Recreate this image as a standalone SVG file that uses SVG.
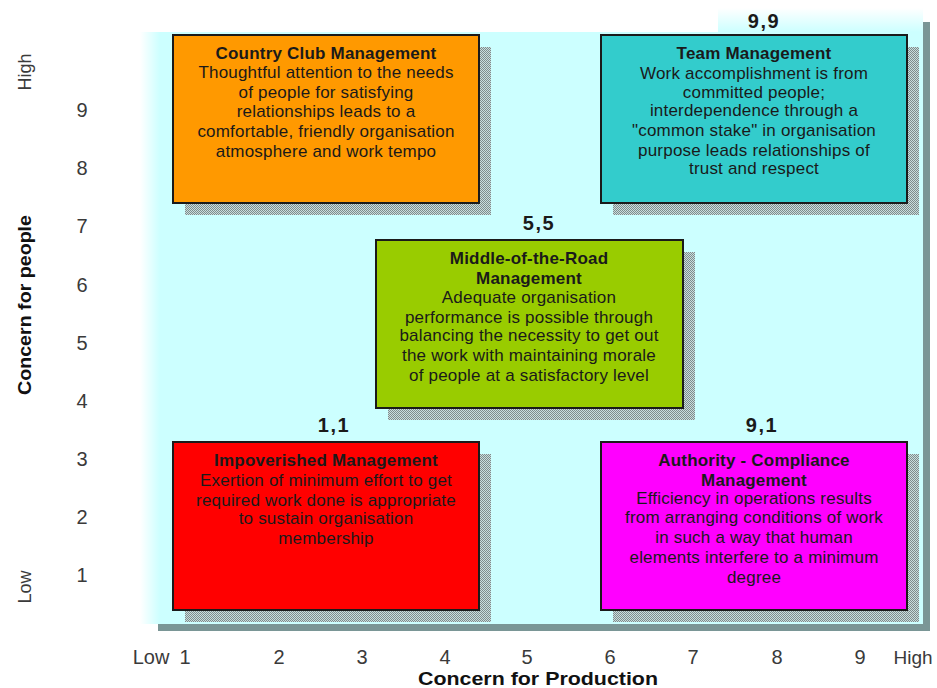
<svg xmlns="http://www.w3.org/2000/svg" width="937" height="688" viewBox="0 0 937 688">
<defs>
<pattern id="dots" width="2" height="2" patternUnits="userSpaceOnUse">
<rect width="2" height="2" fill="#c8dede"/>
<rect width="1" height="1" fill="#7f8c8c"/>
<rect x="1" y="1" width="1" height="1" fill="#7f8c8c"/>
</pattern>
<linearGradient id="leftFade" x1="0" y1="0" x2="1" y2="0">
<stop offset="0" stop-color="#ccffff" stop-opacity="0"/>
<stop offset="1" stop-color="#ccffff"/>
</linearGradient>
<linearGradient id="topFade" x1="0" y1="0" x2="0" y2="1">
<stop offset="0" stop-color="#ccffff" stop-opacity="0"/>
<stop offset="1" stop-color="#ccffff"/>
</linearGradient>
<style>
.box{stroke:#1a1a1a;stroke-width:2}
.sh{fill:url(#dots)}
.t{font-family:"Liberation Sans",Arial,sans-serif;font-size:17px;text-anchor:middle;fill:#1a1a1a;letter-spacing:0.2px}
.b{font-weight:bold;letter-spacing:0.2px}
.lbl{font-family:"Liberation Sans",Arial,sans-serif;font-size:20px;font-weight:bold;text-anchor:middle;fill:#1a1a1a;letter-spacing:1.5px}
.num{font-family:"Liberation Sans",Arial,sans-serif;font-size:20px;fill:#3a3a3a;text-anchor:middle}
.ax{font-family:"Liberation Sans",Arial,sans-serif;font-size:19px;font-weight:bold;fill:#111;text-anchor:middle}
</style>
</defs>
<rect width="937" height="688" fill="#ffffff"/>
<g id="panel">
<rect x="923" y="22" width="7" height="609" fill="#7a9696"/>
<rect x="158" y="624" width="772" height="7" fill="#7a9696"/>
<rect x="160" y="32" width="763" height="592" fill="#ccffff"/>
<rect x="140" y="32" width="20" height="592" fill="url(#leftFade)"/>
<rect x="718" y="8" width="205" height="24" fill="url(#topFade)"/>
</g>
<g id="country-club">
<rect class="sh" x="185" y="47" width="306" height="168"/>
<rect class="box" x="173" y="35" width="306" height="168" fill="#ff9900"/>
<text class="t b" x="326" y="59">Country Club Management</text>
<text class="t" x="326" y="78">Thoughtful attention to the needs</text>
<text class="t" x="326" y="98">of people for satisfying</text>
<text class="t" x="326" y="117">relationships leads to a</text>
<text class="t" x="326" y="137">comfortable, friendly organisation</text>
<text class="t" x="326" y="157">atmosphere and work tempo</text>
</g>
<g id="team">
<rect class="sh" x="613" y="47" width="306" height="168"/>
<rect class="box" x="601" y="35" width="306" height="168" fill="#33cccc"/>
<text class="lbl" x="764" y="28">9,9</text>
<text class="t b" x="754" y="59">Team Management</text>
<text class="t" x="754" y="79">Work accomplishment is from</text>
<text class="t" x="754" y="98">committed people;</text>
<text class="t" x="754" y="116">interdependence through a</text>
<text class="t" x="754" y="136">"common stake" in organisation</text>
<text class="t" x="754" y="156">purpose leads relationships of</text>
<text class="t" x="754" y="174">trust and respect</text>
</g>
<g id="middle-road">
<rect class="sh" x="388" y="252" width="307" height="168"/>
<rect class="box" x="376" y="240" width="307" height="168" fill="#99cc00"/>
<text class="lbl" x="539" y="230">5,5</text>
<text class="t b" x="529" y="264">Middle-of-the-Road</text>
<text class="t b" x="529" y="284">Management</text>
<text class="t" x="529" y="303">Adequate organisation</text>
<text class="t" x="529" y="323">performance is possible through</text>
<text class="t" x="529" y="341">balancing the necessity to get out</text>
<text class="t" x="529" y="361">the work with maintaining morale</text>
<text class="t" x="529" y="381">of people at a satisfactory level</text>
</g>
<g id="impoverished">
<rect class="sh" x="185" y="454" width="306" height="168"/>
<rect class="box" x="173" y="442" width="306" height="168" fill="#ff0000"/>
<text class="lbl" x="334" y="432">1,1</text>
<text class="t b" x="326" y="466">Impoverished Management</text>
<text class="t" x="326" y="486">Exertion of minimum effort to get</text>
<text class="t" x="326" y="506">required work done is appropriate</text>
<text class="t" x="326" y="524">to sustain organisation</text>
<text class="t" x="326" y="544">membership</text>
</g>
<g id="authority">
<rect class="sh" x="613" y="454" width="306" height="168"/>
<rect class="box" x="601" y="442" width="306" height="168" fill="#ff00ff"/>
<text class="lbl" x="762" y="432">9,1</text>
<text class="t b" x="754" y="466">Authority - Compliance</text>
<text class="t b" x="754" y="486">Management</text>
<text class="t" x="754" y="504">Efficiency in operations results</text>
<text class="t" x="754" y="523">from arranging conditions of work</text>
<text class="t" x="754" y="543">in such a way that human</text>
<text class="t" x="754" y="563">elements interfere to a minimum</text>
<text class="t" x="754" y="583">degree</text>
</g>
<g id="y-axis">
<text class="num" transform="translate(31,72) rotate(-90)" style="font-size:18px">High</text>
<text class="num" transform="translate(31,587) rotate(-90)" style="font-size:18px">Low</text>
<text class="ax" transform="translate(31,305) rotate(-90)" textLength="180" lengthAdjust="spacingAndGlyphs">Concern for people</text>
<text class="num" x="82" y="117">9</text>
<text class="num" x="82" y="175">8</text>
<text class="num" x="82" y="233">7</text>
<text class="num" x="82" y="292">6</text>
<text class="num" x="82" y="350">5</text>
<text class="num" x="82" y="408">4</text>
<text class="num" x="82" y="466">3</text>
<text class="num" x="82" y="524">2</text>
<text class="num" x="82" y="582">1</text>
</g>
<g id="x-axis">
<text class="num" x="151" y="664">Low</text>
<text class="num" x="185" y="664">1</text>
<text class="num" x="279" y="664">2</text>
<text class="num" x="362" y="664">3</text>
<text class="num" x="445" y="664">4</text>
<text class="num" x="527" y="664">5</text>
<text class="num" x="610" y="664">6</text>
<text class="num" x="693" y="664">7</text>
<text class="num" x="777" y="664">8</text>
<text class="num" x="860" y="664">9</text>
<text class="num" x="913" y="664" style="font-size:19px">High</text>
<text class="ax" x="538" y="685" textLength="240" lengthAdjust="spacingAndGlyphs">Concern for Production</text>
</g>
<g id="connectors"/>
</svg>
